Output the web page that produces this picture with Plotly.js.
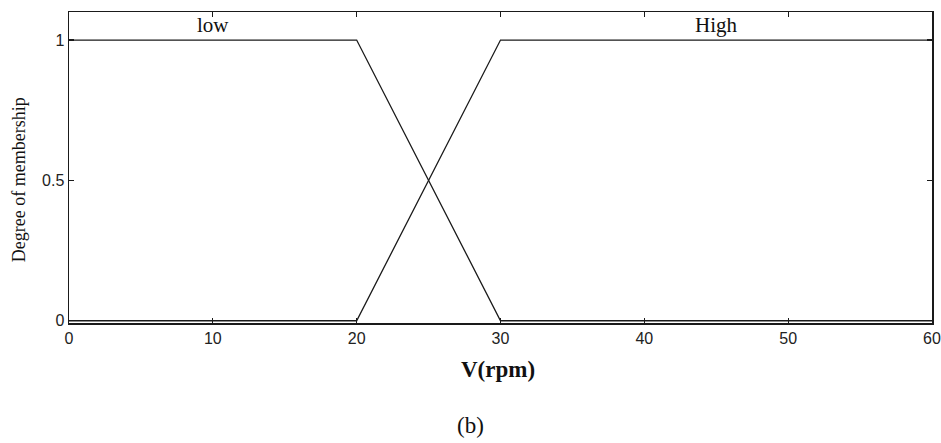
<!DOCTYPE html>
<html>
<head>
<meta charset="utf-8">
<script src="https://cdn.plot.ly/plotly-3.0.1.min.js"></script>
<style>html,body{margin:0;padding:0;background:#fff;}#chart{width:941px;height:443px;}</style>
</head>
<body>
<div id="chart"></div>
<script>
var xPoints = [0, 20, 30, 60];
var lowValues = [1, 1, 0, 0];
var highValues = [0, 0, 1, 1];
var xTicks = [0, 10, 20, 30, 40, 50, 60];
var yTicks = [0, 0.5, 1];
var mfNames = ["low", "High"];
var mfLabelX = [10, 45];

var lineStyle = {color: '#1a1a1a', width: 1.3};
var traces = [
  {x: xPoints, y: lowValues, mode: 'lines', line: lineStyle, hoverinfo: 'skip', showlegend: false},
  {x: xPoints, y: highValues, mode: 'lines', line: lineStyle, hoverinfo: 'skip', showlegend: false}
];

var serif = 'Liberation Serif, Times New Roman, serif';
var annotations = mfNames.map(function (n, i) {
  return {x: mfLabelX[i], y: 1.052, xref: 'x', yref: 'y', text: n, showarrow: false,
    font: {family: serif, size: 21, color: '#111'},
    xanchor: 'center', yanchor: 'middle'};
});
annotations.push({xref: 'paper', yref: 'paper', x: -0.057, y: 0.462, text: 'Degree of membership',
  textangle: -90, showarrow: false, xanchor: 'center', yanchor: 'middle',
  font: {family: serif, size: 18, color: '#111'}});
annotations.push({xref: 'x', yref: 'paper', x: 29.8, y: -0.148, text: '<b>V(rpm)</b>', showarrow: false,
  xanchor: 'center', yanchor: 'middle',
  font: {family: serif, size: 23, color: '#111'}});
annotations.push({xref: 'x', yref: 'paper', x: 27.9, y: -0.33, text: '(b)', showarrow: false,
  xanchor: 'center', yanchor: 'middle',
  font: {family: serif, size: 23, color: '#111'}});

var layout = {
  width: 941, height: 443,
  margin: {l: 68.5, r: 9, t: 11.5, b: 120, pad: 0},
  paper_bgcolor: '#fff', plot_bgcolor: '#fff',
  showlegend: false,
  xaxis: {range: [0, 60], tickvals: xTicks, ticktext: xTicks.map(String), ticks: 'inside', ticklen: 5,
    tickcolor: '#1a1a1a', tickwidth: 1.2, showline: true, linecolor: '#1a1a1a', linewidth: 1.5, mirror: 'ticks',
    showgrid: false, zeroline: false, fixedrange: true,
    tickfont: {family: 'Liberation Sans, Arial, sans-serif', size: 16, color: '#222'}},
  yaxis: {range: [-0.008, 1.1], tickvals: yTicks, ticktext: ['0', '0.5', '1'], ticks: 'inside', ticklen: 5,
    tickcolor: '#1a1a1a', tickwidth: 1.2, showline: true, linecolor: '#1a1a1a', linewidth: 1.5, mirror: 'ticks',
    showgrid: false, zeroline: false, fixedrange: true,
    tickfont: {family: 'Liberation Sans, Arial, sans-serif', size: 16, color: '#222'}},
  annotations: annotations
};

Plotly.newPlot('chart', traces, layout, {staticPlot: true, displayModeBar: false});
</script>
</body>
</html>
